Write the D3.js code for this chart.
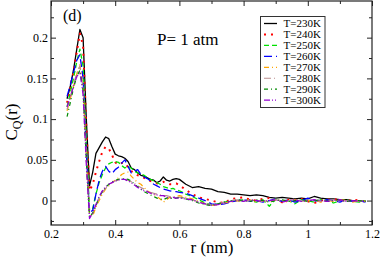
<!DOCTYPE html>
<html><head><meta charset="utf-8">
<script src="https://cdn.jsdelivr.net/npm/d3@7"></script>
<style>body{margin:0;background:#fff}svg{display:block}text{font-family:"Liberation Serif","Times New Roman",serif}</style>
</head><body><svg id="c" width="382" height="257"></svg>
<script>
const rA = d3.range(25, 61).map(d => d / 100);
const rB = d3.range(31, 60).map(d => d * 2 / 100);
const r = rA.concat(rB);

const labels = ["T=230K","T=240K","T=250K","T=260K","T=270K","T=280K","T=290K","T=300K"];
const t230 = [0.125,0.14,0.16,0.185,0.210,0.200,0.10,0.018,0.035,0.058,0.065,0.072,0.078,0.076,0.066,0.057,0.055,0.054,0.052,0.048,0.040,0.038,0.034,0.031,0.030,0.028,0.026,0.025,0.022,0.024,0.029,0.025,0.024,0.026,0.027,0.026,
0.020,0.016,0.017,0.015,0.014,0.011,0.010,0.008,0.008,0.007,0.006,0.007,0.006,0.004,0.003,0.004,0.003,0.002,0.003,0.002,0.005,0.003,0.002,0.002,0.001,0.001,0.000,-0.001,-0.001];
const t240 = [0.12,0.138,0.158,0.182,0.205,0.190,0.09,0.012,0.020,0.035,0.048,0.060,0.066,0.064,0.056,0.047,0.044,0.046,0.046,0.041,0.036,0.034,0.031,0.030,0.028,0.026,0.024,0.023,0.021,0.022,0.023,0.021,0.020,0.020,0.021,0.019,
0.013,0.008,0.004,0.002,0.000,-0.002,-0.003,0.002,0.003,0.004,0.001,0.000,0.002,0.003,0.001,-0.002,0.001,0.000,0.002,-0.001,-0.003,0.000,0.001,0.002,0.000,-0.001,0.001,0.000,-0.001];
const t250 = [0.115,0.132,0.150,0.170,0.186,0.165,0.07,-0.012,-0.010,0.008,0.022,0.032,0.040,0.045,0.047,0.048,0.047,0.043,0.040,0.042,0.040,0.036,0.034,0.033,0.031,0.028,0.026,0.024,0.022,0.020,0.017,0.016,0.014,0.015,0.013,0.012,
0.008,0.005,0.001,-0.003,-0.005,-0.004,-0.002,0.000,-0.001,0.001,0.000,-0.002,0.001,-0.007,0.002,-0.001,0.000,-0.004,0.001,0.000,-0.002,0.001,0.000,-0.003,0.000,0.001,-0.001,-0.002,0.000];
const t260 = [0.128,0.142,0.157,0.172,0.179,0.150,0.06,-0.015,-0.012,0.008,0.025,0.036,0.042,0.036,0.033,0.038,0.041,0.046,0.050,0.042,0.034,0.036,0.038,0.032,0.029,0.027,0.024,0.020,0.018,0.016,0.014,0.013,0.012,0.011,0.011,0.010,
0.009,0.006,0.003,0.000,-0.004,-0.005,-0.004,-0.002,0.000,0.001,-0.001,0.000,-0.002,0.000,0.002,-0.001,0.001,-0.002,0.000,0.003,0.000,-0.001,0.001,0.000,-0.002,0.001,-0.001,0.000,-0.002];
const t270 = [0.110,0.125,0.140,0.155,0.167,0.140,0.055,-0.017,-0.019,-0.008,0.000,0.008,0.014,0.018,0.022,0.025,0.028,0.032,0.034,0.035,0.030,0.026,0.022,0.020,0.016,0.012,0.010,0.008,0.005,0.002,-0.002,0.001,0.004,0.003,0.005,0.006,
0.004,0.002,-0.001,-0.004,-0.006,-0.005,-0.003,-0.002,0.000,-0.001,0.001,-0.002,0.000,-0.001,0.001,0.000,-0.002,0.001,-0.001,0.000,0.001,-0.002,0.000,-0.001,0.001,0.000,-0.002,0.000,-0.001];
const t280 = [0.112,0.127,0.142,0.156,0.165,0.140,0.050,-0.020,-0.016,-0.007,0.003,0.010,0.015,0.019,0.022,0.024,0.025,0.026,0.026,0.025,0.023,0.021,0.018,0.016,0.014,0.012,0.010,0.009,0.008,0.007,0.006,0.006,0.005,0.005,0.004,0.004,
0.003,0.001,-0.002,-0.004,-0.005,-0.004,-0.002,0.000,0.001,-0.001,0.000,0.001,-0.001,0.000,0.001,-0.001,0.000,0.002,-0.001,0.000,0.001,-0.001,0.000,0.001,-0.001,0.000,0.000,-0.001,0.000];
const t290 = [0.103,0.120,0.138,0.152,0.160,0.135,0.050,-0.020,-0.015,-0.006,0.004,0.011,0.016,0.020,0.023,0.025,0.026,0.027,0.027,0.026,0.024,0.020,0.017,0.014,0.011,0.009,0.007,0.005,0.003,0.002,0.001,0.003,0.004,0.002,0.003,0.004,
0.002,0.000,-0.003,-0.005,-0.006,-0.004,-0.002,-0.001,0.001,0.000,-0.001,0.001,0.000,-0.002,0.000,0.001,-0.001,0.000,0.001,-0.001,0.000,0.001,-0.001,0.000,0.001,-0.001,0.000,0.000,-0.001];
const t300 = [0.115,0.127,0.140,0.152,0.158,0.130,0.045,-0.022,-0.015,-0.005,0.005,0.012,0.017,0.020,0.022,0.024,0.025,0.026,0.026,0.024,0.022,0.019,0.016,0.014,0.012,0.011,0.009,0.008,0.007,0.006,0.006,0.004,0.003,0.004,0.003,0.003,
0.002,0.001,-0.002,-0.004,-0.006,-0.005,-0.003,-0.001,0.000,-0.001,0.001,0.000,-0.001,0.000,0.001,-0.002,0.000,0.001,-0.001,0.000,0.001,0.000,-0.001,0.000,0.001,-0.001,0.000,-0.001,0.000];

const xMajor = [0.2,0.4,0.6,0.8,1.0,1.2];
const xMinor = [0.3,0.5,0.7,0.9,1.1];
const yMajor = [0,0.05,0.1,0.15,0.2];
const yMinor = [-0.025,0.025,0.075,0.125,0.175,0.225];

const seriesVals = [t230,t240,t250,t260,t270,t280,t290,t300];
const colors = ["#000000","#ff0000","#00e000","#0000ff","#ffa500","#bc8f8f","#008b00","#9400d3"];
const dashes = [null,"2,5","5,3","8,4","5,3,1,3","7,3,1,3","4,3,1,3","6,2,1,2,1,2"];
const widths = [1.3,2,1.3,1.3,1.2,1.2,1.2,1.3];

const svg = d3.select("#c");
const L=51, R=372, T=1, B=225;
const x = d3.scaleLinear().domain([0.2,1.2]).range([L,R]);
const y = d3.scaleLinear().domain([-0.03,0.245]).range([B,T]);

svg.append("clipPath").attr("id","pc").append("rect").attr("x",L).attr("y",T).attr("width",R-L).attr("height",B-T);

const line = d3.line().x((d,i)=>x(r[i])).y(d=>y(d));
const g = svg.append("g").attr("clip-path","url(#pc)");
seriesVals.forEach((s,k)=>{
  g.append("path").attr("d",line(s)).attr("fill","none").attr("stroke",colors[k])
   .attr("stroke-width",widths[k]).attr("stroke-dasharray",dashes[k]).attr("stroke-linejoin","round");
});

const fmtX = d => String(+d.toFixed(1));
const fmtY = d => String(+d.toFixed(2));
const axB = d3.axisBottom(x).tickValues(xMajor).tickSizeInner(-5).tickSizeOuter(0).tickPadding(4).tickFormat(fmtX);
const axT = d3.axisTop(x).tickValues(xMajor).tickSizeInner(-5).tickSizeOuter(0).tickFormat("");
const axL = d3.axisLeft(y).tickValues(yMajor).tickSizeInner(-5).tickSizeOuter(0).tickPadding(3).tickFormat(fmtY);
const axRt = d3.axisRight(y).tickValues(yMajor).tickSizeInner(-5).tickSizeOuter(0).tickFormat("");
const mB = d3.axisBottom(x).tickValues(xMinor).tickSizeInner(-3).tickSizeOuter(0).tickFormat("");
const mT = d3.axisTop(x).tickValues(xMinor).tickSizeInner(-3).tickSizeOuter(0).tickFormat("");
const mL = d3.axisLeft(y).tickValues(yMinor).tickSizeInner(-3).tickSizeOuter(0).tickFormat("");
const mR = d3.axisRight(y).tickValues(yMinor).tickSizeInner(-3).tickSizeOuter(0).tickFormat("");
[[axB,`translate(0,${B})`],[mB,`translate(0,${B})`],[axT,`translate(0,${T})`],[mT,`translate(0,${T})`],
 [axL,`translate(${L},0)`],[mL,`translate(${L},0)`],[axRt,`translate(${R},0)`],[mR,`translate(${R},0)`]].forEach(([a,t])=>{
  const ga = svg.append("g").attr("transform",t).call(a);
  ga.attr("font-family",null);
  ga.select(".domain").remove();
  ga.selectAll("line").attr("stroke","#222");
  ga.selectAll("text").style("font-family","'Liberation Serif', serif").attr("font-size",12).attr("fill","#000");
});
svg.append("rect").attr("x",L).attr("y",T).attr("width",R-L).attr("height",B-T).attr("fill","none").attr("stroke","#222").attr("stroke-width",1.2);

svg.append("text").attr("x",212).attr("y",253).attr("text-anchor","middle").attr("font-size",17).text("r (nm)");
const yl = svg.append("text").attr("transform","translate(17,122) rotate(-90)").attr("text-anchor","middle").attr("font-size",17);
yl.append("tspan").text("C");
yl.append("tspan").attr("font-size",12).attr("dy",4).text("Q");
yl.append("tspan").attr("dy",-4).text("(r)");
svg.append("text").attr("x",63).attr("y",21).attr("font-size",16).text("(d)");
svg.append("text").attr("x",157).attr("y",45).attr("font-size",17).text("P= 1 atm");

const lg = svg.append("g");
lg.append("rect").attr("x",260.5).attr("y",16.5).attr("width",64.5).attr("height",91).attr("fill","#fff").attr("stroke","#333").attr("stroke-width",1);
labels.forEach((lab,k)=>{
  const yy = 23.5 + k*10.95;
  lg.append("line").attr("x1",264).attr("x2",277).attr("y1",yy).attr("y2",yy).attr("stroke",colors[k])
    .attr("stroke-width",widths[k]).attr("stroke-dasharray",dashes[k]);
  lg.append("text").attr("x",283.5).attr("y",yy+3.8).attr("font-size",11).text(lab);
});
</script></body></html>
